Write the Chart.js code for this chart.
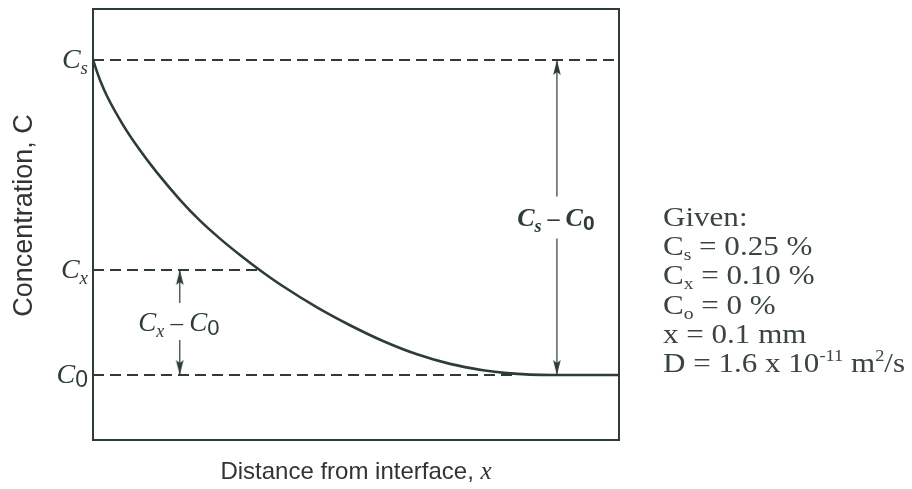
<!DOCTYPE html>
<html><head><meta charset="utf-8">
<script src="https://cdn.jsdelivr.net/npm/chart.js@4/dist/chart.umd.min.js"></script>
<style>
html,body{margin:0;padding:0;background:#fff;}
#wrap{position:relative;width:912px;height:489px;}
#given{position:absolute;left:663px;top:203px;font-family:'Liberation Serif','Times New Roman',serif;font-size:27px;line-height:29.2px;color:#3a4444;white-space:nowrap;transform:scaleX(1.15);transform-origin:0 0;}
.sb{font-size:17px;vertical-align:-5px;line-height:0;}
.sp{font-size:16px;vertical-align:11px;line-height:0;}
</style></head>
<body>
<div id="wrap">
<canvas id="c" width="912" height="489"></canvas>
<div id="given">Given:<br>C<span class="sb">s</span> = 0.25 %<br>C<span class="sb">x</span> = 0.10 %<br>C<span class="sb">o</span> = 0 %<br>x = 0.1 mm<br>D = 1.6 x 10<span class="sp">-11</span> m<span class="sp">2</span>/s</div>
</div>
<script>
// ---- data (schematic units: distance 0..1, concentration C0=0, Cx=1, Cs=3) ----
const curveX = [0, 0.0133, 0.0266, 0.0570, 0.0894, 0.1217, 0.1654, 0.2034, 0.2414, 0.2795, 0.3175, 0.3612, 0.4259, 0.4886, 0.5513, 0.6160, 0.6787, 0.7414, 0.7871, 0.8308, 0.8745, 1.0];
const curveY = [3.0, 2.810, 2.657, 2.383, 2.140, 1.927, 1.669, 1.470, 1.299, 1.143, 0.998, 0.845, 0.644, 0.474, 0.324, 0.197, 0.106, 0.046, 0.018, 0.004, 0, 0];
const levelLabels = ['Cs', 'Cx', 'C0'];
const levelValues = [3, 1, 0];
const levelDashEnd = [1.0, 0.317, 0.80];
const diffLabels = ['Cs - C0', 'Cx - C0'];
const arrowX = [0.882, 0.165];
const arrowTop = [3, 1];
const arrowGapTop = [1.70, 0.686];
const arrowLabelY = [1.50, 0.50];
const arrowGapBottom = [1.30, 0.333];
const arrowBottom = [0, 0];
const xTitle = 'Distance from interface, ';
const xTitleVar = 'x';
const yTitle = 'Concentration, C';

const INK = '#2d3b3b';

function makeHead() {
  const c = document.createElement('canvas');
  c.width = 10; c.height = 32;
  const g = c.getContext('2d');
  g.fillStyle = INK;
  g.beginPath();
  g.moveTo(5, 16); g.lineTo(8.8, 31); g.lineTo(5, 28); g.lineTo(1.2, 31); g.closePath();
  g.fill();
  return c;
}
const head = makeHead();

const datasets = [];
levelValues.forEach((v, i) => {
  datasets.push({ data: [{x: 0, y: v}, {x: levelDashEnd[i], y: v}], borderColor: INK, borderWidth: 2, borderDash: [11, 6], pointRadius: 0, showLine: true });
});
datasets.push({ data: curveX.map((x, i) => ({x, y: curveY[i]})), borderColor: INK, borderWidth: 2.6, pointRadius: 0, showLine: true, cubicInterpolationMode: 'monotone' });
arrowX.forEach((ax, i) => {
  datasets.push({ data: [{x: ax, y: arrowTop[i]}, {x: ax, y: arrowGapTop[i]}], borderColor: INK, borderWidth: 1.2, pointRadius: 0, showLine: true });
  datasets.push({ data: [{x: ax, y: arrowGapBottom[i]}, {x: ax, y: arrowBottom[i]}], borderColor: INK, borderWidth: 1.2, pointRadius: 0, showLine: true });
  datasets.push({ data: [{x: ax, y: arrowTop[i]}, {x: ax, y: arrowBottom[i]}], showLine: false, pointStyle: head, pointRotation: [0, 180], pointRadius: 5 });
});

function drawRich(ctx, parts, x, y, align) {
  let w = 0;
  parts.forEach(p => { ctx.font = p.font; p.w = ctx.measureText(p.t).width; w += p.w; });
  let cx = align === 'center' ? x - w / 2 : (align === 'right' ? x - w : x);
  ctx.textAlign = 'left'; ctx.textBaseline = 'alphabetic';
  parts.forEach(p => { ctx.font = p.font; ctx.fillText(p.t, cx, y + (p.dy || 0)); cx += p.w; });
}
function symParts(label, bold, size) {
  const b = bold ? 'bold ' : '';
  const main = label[0], sub = label.slice(1);
  const parts = [{t: main, font: 'italic ' + b + size + 'px "Liberation Serif"'}];
  if (sub === '0') parts.push({t: '0', font: b + Math.round(size * 0.82) + 'px "Liberation Sans"', dy: 4});
  else parts.push({t: sub, font: 'italic ' + b + Math.round(size * 0.68) + 'px "Liberation Serif"', dy: 6});
  return parts;
}

const deco = {
  id: 'deco',
  beforeDatasetsDraw(chart) {
    const {ctx, chartArea: a} = chart;
    ctx.save();
    ctx.strokeStyle = INK; ctx.lineWidth = 2;
    ctx.strokeRect(a.left, a.top, a.right - a.left, a.bottom - a.top);
    ctx.restore();
  },
  afterDatasetsDraw(chart) {
    const {ctx, chartArea: a, scales: {x, y}} = chart;
    ctx.save();
    ctx.fillStyle = INK;
    levelLabels.forEach((lab, i) => {
      const py = y.getPixelForValue(levelValues[i]);
      drawRich(ctx, symParts(lab, false, 28), a.left - 5, py + 8, 'right');
    });
    diffLabels.forEach((lab, i) => {
      const [l, r] = lab.split(' - ');
      const bold = i === 0;
      const sz = bold ? 26 : 27;
      const parts = symParts(l, bold, sz).concat([{t: ' \u2013 ', font: (bold ? 'bold ' : '') + (sz - 2) + 'px "Liberation Serif"'}], symParts(r, bold, sz));
      drawRich(ctx, parts, x.getPixelForValue(arrowX[i]) - 1, y.getPixelForValue(arrowLabelY[i]) + 8, 'center');
    });
    ctx.fillStyle = '#333';
    drawRich(ctx, [{t: xTitle, font: '24px "Liberation Sans"'}, {t: xTitleVar, font: 'italic 25px "Liberation Serif"'}], (a.left + a.right) / 2, a.bottom + 39, 'center');
    ctx.translate(32, (a.top + a.bottom) / 2 - 9);
    ctx.rotate(-Math.PI / 2);
    drawRich(ctx, [{t: yTitle, font: '27px "Liberation Sans"'}], 0, 0, 'center');
    ctx.restore();
  }
};

new Chart(document.getElementById('c'), {
  type: 'scatter',
  data: { datasets },
  options: {
    responsive: false, animation: false, devicePixelRatio: 1, events: [],
    layout: { padding: { left: 93, top: 9, right: 293, bottom: 49 } },
    plugins: { legend: { display: false }, tooltip: { enabled: false } },
    scales: {
      x: { type: 'linear', min: 0, max: 1, display: false },
      y: { type: 'linear', min: -0.619, max: 3.486, display: false }
    }
  },
  plugins: [deco]
});
</script>
</body></html>
